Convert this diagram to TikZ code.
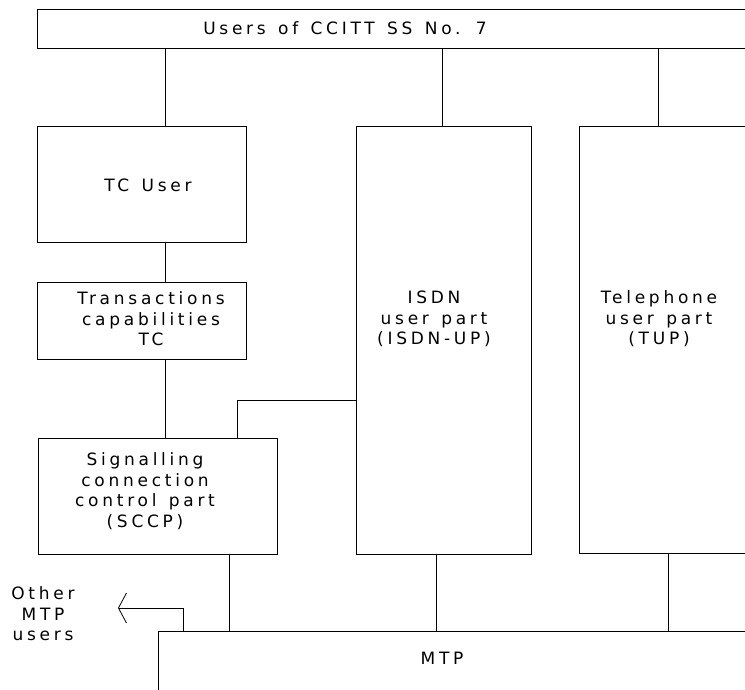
\documentclass[tikz,border=0pt]{standalone}
\usepackage{fontspec}
\newfontfamily\plotfont[LetterSpace=22, WordSpace=1.35]{DejaVu Sans}
\usetikzlibrary{arrows.meta, positioning}
\usepackage{xcolor}

\tikzset{
    box/.style={draw, line width=0.8pt, inner sep=0pt},
    wire/.style={line width=0.8pt},
    lbl/.style={font=\plotfont\fontsize{17}{20.5}\selectfont, align=center, inner sep=0pt}
}

\begin{document}
\begin{tikzpicture}[x=1pt, y=-1pt]
        \useasboundingbox (0,0) rectangle (745,690);
        \clip (0,0) rectangle (745,690);

        % boxes
        \node[box, minimum width=763pt, minimum height=39pt] (users) at (418.5, 28.5) {};
        \node[box, minimum width=209pt, minimum height=116pt] (tcuser) at (141.5, 184) {};
        \node[box, minimum width=209pt, minimum height=77pt] (tc) at (141.5, 320.5) {};
        \node[box, minimum width=239pt, minimum height=116pt] (sccp) at (157.5, 496) {};
        \node[box, minimum width=175pt, minimum height=428pt] (isdn) at (443.5, 340) {};
        \node[box, minimum width=221pt, minimum height=427pt] (tup) at (689.5, 339.5) {};
        \node[box, minimum width=642pt, minimum height=89pt] (mtp) at (479, 675.5) {};

        % texts
        \node[lbl] (userstxt) at (345, 28) {Users of CCITT SS No. 7};
        \node[lbl] (tcusertxt) at (148, 185) {TC User};
        \node[lbl] (tctxt) at (151, 319) {Transactions\\capabilities\\TC};
        \node[lbl] (sccptxt) at (145, 491) {Signalling\\connection\\control part\\(SCCP)};
        \node[lbl] (isdntxt) at (434, 319) {ISDN\\user part\\(ISDN-UP)};
        \node[lbl] (tuptxt) at (659, 319) {Telephone\\user part\\(TUP)};
        \node[lbl] (mtptxt) at (442, 658) {MTP};
        \node[lbl] (othertxt) at (43, 614) {Other\\MTP\\users};

        % columns of the connectors
        \coordinate (ca) at (165, 0);
        \coordinate (cb) at (442, 0);
        \coordinate (cc) at (658, 0);
        \coordinate (cd) at (237, 400);
        \coordinate (ce) at (229, 0);
        \coordinate (cf) at (436, 0);
        \coordinate (cg) at (668, 0);
        \coordinate (ch) at (183, 0);
        \coordinate (othertip) at (118, 608);

        \draw[wire] (users.south -| ca) -- (tcuser.north -| ca);
        \draw[wire] (users.south -| cb) -- (isdn.north -| cb);
        \draw[wire] (users.south -| cc) -- (tup.north -| cc);
        \draw[wire] (tcuser.south -| ca) -- (tc.north -| ca);
        \draw[wire] (tc.south -| ca) -- (sccp.north -| ca);
        \draw[wire] (sccp.north -| cd) |- (isdn.west |- cd);

        \draw[wire] (sccp.south -| ce) -- (mtp.north -| ce);
        \draw[wire] (isdn.south -| cf) -- (mtp.north -| cf);
        \draw[wire] (tup.south -| cg) -- (mtp.north -| cg);
        \draw[wire, -{Straight Barb[length=8pt, width=30pt]}] (mtp.north -| ch) |- (othertip);
    \end{tikzpicture}
\end{document}
